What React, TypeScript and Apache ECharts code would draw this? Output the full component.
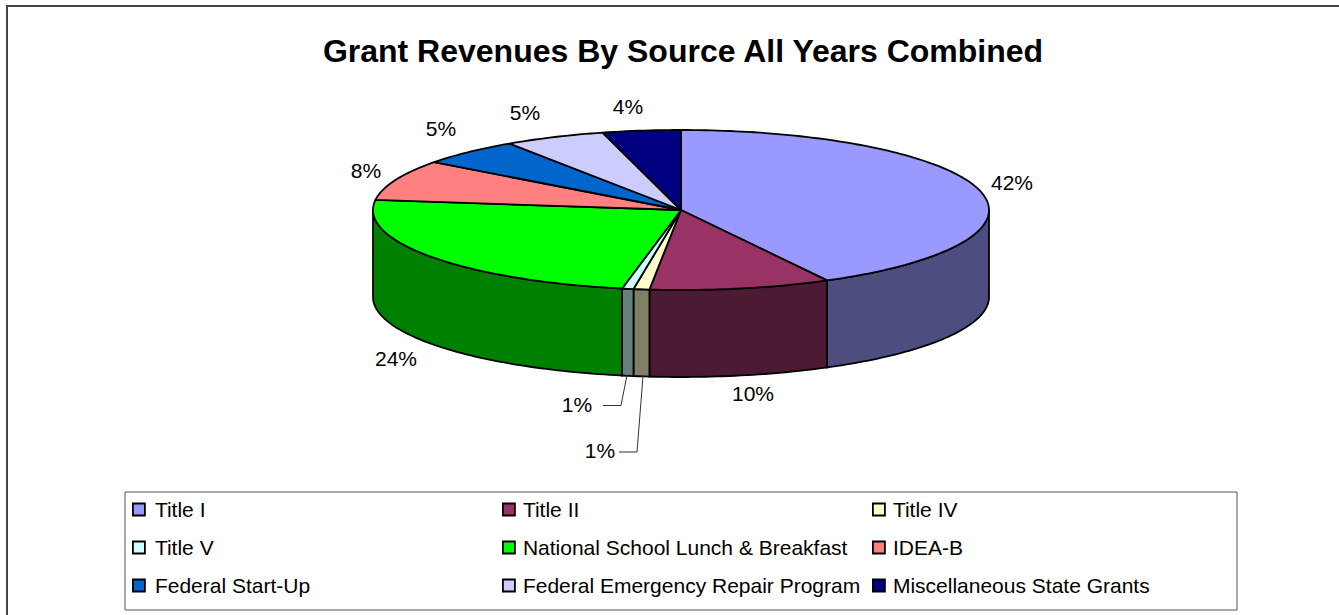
import React, { useEffect, useRef } from "react";
import * as echarts from "echarts";

const categories = [
  "Title I",
  "Title II",
  "Title IV",
  "Title V",
  "National School Lunch & Breakfast",
  "IDEA-B",
  "Federal Start-Up",
  "Federal Emergency Repair Program",
  "Miscellaneous State Grants",
];
const shares = [42.15, 9.5, 0.83, 0.6, 23.95, 8.2, 5.4, 5.3, 4.1];
const topColors = ["#9999FF", "#993366", "#FFFFCC", "#CCFFFF", "#00FF00", "#FF8080", "#0066CC", "#CCCCFF", "#000080"];
const wallColors = ["#4D4D80", "#4D1A33", "#808066", "#668080", "#008000", "#804040", "#003366", "#666680", "#000040"];
const chartTitle = "Grant Revenues By Source All Years Combined";

const CX = 681;
const CY = 210;
const RX = 308;
const RY = 80;
const DEPTH = 87;
const labelPositions = [
  [1012, 182], [753, 393], [600, 450], [577, 404], [396, 358], [366, 170], [441, 128], [525, 112], [628, 106],
];
const leaders: Record<number, number[][]> = {
  2: [[643, 376], [637, 452], [619, 452]],
  3: [[627, 375], [621, 405.5], [603, 405.5]],
};

const total = shares.reduce((a, b) => a + b, 0);
const pt = (t: number, dy = 0) => [CX + RX * Math.sin(t), CY - RY * Math.cos(t) + dy];

function arc(a: number, b: number, dy = 0) {
  const n = Math.max(2, Math.ceil(Math.abs(b - a) / 0.02));
  const out: number[][] = [];
  for (let i = 0; i <= n; i++) out.push(pt(a + ((b - a) * i) / n, dy));
  return out;
}

function renderSlice(index: number) {
  const before = shares.slice(0, index).reduce((a, b) => a + b, 0);
  const a = (before / total) * Math.PI * 2;
  const b = ((before + shares[index]) / total) * Math.PI * 2;
  const children: any[] = [];
  const w0 = Math.max(a, Math.PI / 2);
  const w1 = Math.min(b, (Math.PI * 3) / 2);
  if (w1 > w0) {
    children.push({
      type: "polygon",
      shape: { points: [...arc(w0, w1), ...arc(w1, w0, DEPTH)] },
      style: { fill: wallColors[index], stroke: "#000", lineWidth: 1.8 },
    });
  }
  children.push({
    type: "polygon",
    shape: { points: [[CX, CY], ...arc(a, b)] },
    style: { fill: topColors[index], stroke: "#000", lineWidth: 1.8, lineJoin: "round" },
  });
  if (leaders[index]) {
    children.push({
      type: "polyline",
      shape: { points: leaders[index] },
      style: { fill: "none", stroke: "#333", lineWidth: 1 },
    });
  }
  children.push({
    type: "text",
    x: labelPositions[index][0],
    y: labelPositions[index][1],
    style: {
      text: `${Math.round(shares[index])}%`,
      font: "21px 'Liberation Sans', Arial, sans-serif",
      fill: "#000",
      align: "center",
      verticalAlign: "middle",
    },
  });
  return { type: "group", children };
}

const legendColumn = (items: string[], left: number, textGap: number) => ({
  orient: "vertical" as const,
  left,
  top: 499,
  data: items,
  icon: "rect",
  itemWidth: 12,
  itemHeight: 12,
  itemGap: 17,
  padding: 0,
  selectedMode: false,
  itemStyle: { borderColor: "#000", borderWidth: 1.8 },
  textStyle: {
    fontFamily: "'Liberation Sans', Arial, sans-serif",
    fontSize: 21,
    color: "#000",
    lineHeight: 21,
    padding: [0, 0, 0, textGap],
  },
});

export default function App() {
  const ref = useRef<HTMLDivElement>(null);
  useEffect(() => {
    const chart = echarts.init(ref.current!, undefined, { renderer: "svg" });
    chart.setOption({
      animation: false,
      backgroundColor: "#fff",
      title: {
        text: chartTitle,
        left: 678,
        top: 30,
        textAlign: "center",
        textStyle: {
          fontFamily: "'Liberation Sans', Arial, sans-serif",
          fontWeight: "bold",
          fontSize: 32,
          color: "#000",
        },
      },
      legend: [
        legendColumn([categories[0], categories[3], categories[6]], 132, 5),
        legendColumn([categories[1], categories[4], categories[7]], 502, 3),
        legendColumn([categories[2], categories[5], categories[8]], 872, 3),
      ],
      graphic: [
        { type: "polyline", silent: true, z: -1, shape: { points: [[7, 615], [7, 6], [1339, 6]] }, style: { fill: "none", stroke: "#444", lineWidth: 2 } },
        { type: "rect", silent: true, z: -1, shape: { x: 125, y: 492, width: 1112, height: 118 }, style: { fill: "#fff", stroke: "#555", lineWidth: 1 } },
      ],
      series: categories.map((name, i) => ({
        type: "custom",
        name,
        coordinateSystem: "none",
        itemStyle: { color: topColors[i] },
        data: [shares[i]],
        renderItem: () => renderSlice(i),
        silent: true,
      })),
    });
    return () => chart.dispose();
  }, []);
  return <div ref={ref} style={{ position: "fixed", left: 0, top: 0, width: 1339, height: 615 }} />;
}
